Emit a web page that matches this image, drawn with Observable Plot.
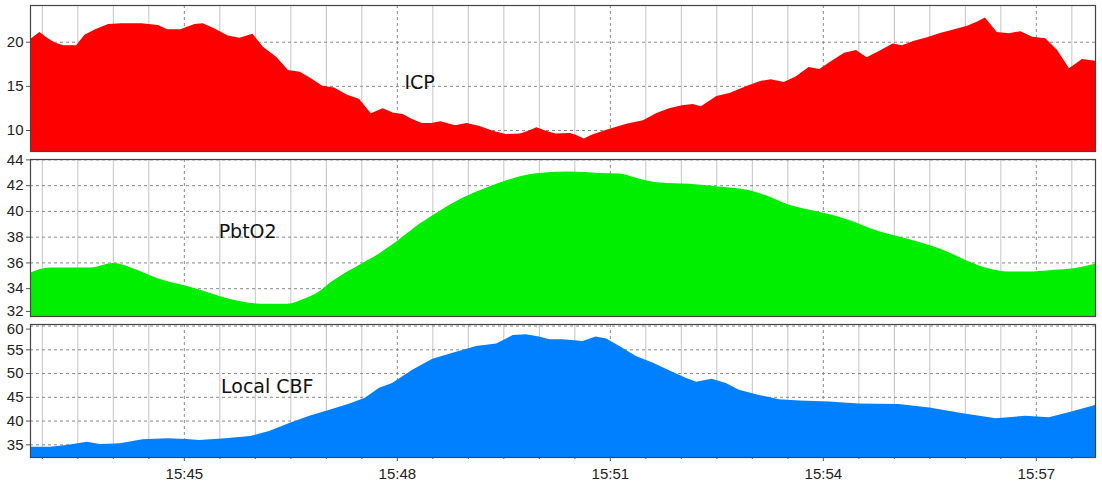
<!DOCTYPE html>
<html><head><meta charset="utf-8">
<script src="https://cdn.jsdelivr.net/npm/d3@7"></script>
<script src="https://cdn.jsdelivr.net/npm/@observablehq/plot@0.6"></script>
<style>
body{margin:0;background:#fff;}
#chart{position:relative;width:1102px;height:483px;overflow:hidden;background:#fff;}
#chart svg{position:absolute;left:0;overflow:visible;}
</style></head><body><div id="chart"></div>
<script>
const startTime = "15:42:50", endTime = "15:57:50";

const icpTimes = ["15:42:50","15:42:58","15:43:05","15:43:11","15:43:18","15:43:29","15:43:36","15:43:45","15:43:56","15:44:07","15:44:24","15:44:38","15:44:46","15:44:57","15:45:09","15:45:16","15:45:26","15:45:37","15:45:47","15:45:58","15:46:07","15:46:18","15:46:28","15:46:38","15:46:47","15:46:57","15:47:07","15:47:18","15:47:28","15:47:38","15:47:48","15:47:57","15:48:05","15:48:12","15:48:21","15:48:29","15:48:37","15:48:49","15:48:59","15:49:10","15:49:21","15:49:32","15:49:44","15:49:51","15:49:58","15:50:06","15:50:14","15:50:26","15:50:31","15:50:38","15:50:45","15:50:59","15:51:14","15:51:28","15:51:39","15:51:50","15:52:01","15:52:10","15:52:17","15:52:30","15:52:41","15:52:56","15:53:07","15:53:16","15:53:27","15:53:37","15:53:48","15:53:57","15:54:08","15:54:18","15:54:28","15:54:37","15:54:49","15:54:59","15:55:07","15:55:17","15:55:28","15:55:39","15:55:51","15:56:02","15:56:10","15:56:17","15:56:27","15:56:37","15:56:47","15:56:57","15:57:08","15:57:18","15:57:28","15:57:39","15:57:50"];
const icpValues = [20.3,21.1,20.4,19.9,19.6,19.6,20.8,21.4,22.0,22.1,22.1,21.9,21.4,21.4,22.0,22.1,21.5,20.7,20.45,20.9,19.4,18.3,16.8,16.6,15.9,15.0,14.8,14.0,13.55,11.9,12.45,11.95,11.8,11.3,10.8,10.8,11.0,10.55,10.8,10.45,9.9,9.55,9.6,9.9,10.3,9.9,9.6,9.65,9.45,9.05,9.5,10.1,10.7,11.1,11.9,12.45,12.8,12.95,12.7,13.85,14.2,15.0,15.55,15.75,15.45,16.05,17.15,16.9,17.9,18.75,19.05,18.25,19.05,19.8,19.6,20.1,20.5,21.0,21.4,21.8,22.25,22.75,21.1,20.95,21.2,20.55,20.4,19.05,17.0,18.05,17.85];

const pbtTimes = ["15:42:50","15:43:07","15:43:41","15:44:00","15:44:14","15:44:37","15:44:57","15:45:13","15:45:30","15:45:47","15:46:04","15:46:27","15:46:42","15:46:55","15:47:03","15:47:12","15:47:28","15:47:45","15:48:02","15:48:19","15:48:36","15:48:53","15:49:10","15:49:27","15:49:44","15:50:00","15:50:26","15:50:51","15:51:08","15:51:25","15:51:42","15:52:07","15:52:32","15:52:58","15:53:15","15:53:31","15:53:48","15:54:05","15:54:22","15:54:39","15:54:56","15:55:13","15:55:30","15:55:46","15:56:03","15:56:20","15:56:37","15:56:54","15:57:11","15:57:28","15:57:50"];
const pbtValues = [35.2,35.6,35.6,35.95,35.65,34.8,34.3,33.9,33.4,33.0,32.8,32.8,33.2,33.8,34.4,34.95,35.8,36.7,37.8,39.0,40.0,40.9,41.6,42.2,42.7,42.95,43.05,42.95,42.9,42.5,42.2,42.1,41.9,41.6,41.1,40.5,40.1,39.75,39.3,38.7,38.2,37.8,37.35,36.8,36.1,35.55,35.3,35.3,35.4,35.5,35.9];

const cbfTimes = ["15:42:50","15:43:07","15:43:21","15:43:38","15:43:49","15:44:06","15:44:25","15:44:46","15:45:02","15:45:13","15:45:35","15:45:56","15:46:12","15:46:29","15:46:46","15:47:03","15:47:20","15:47:33","15:47:45","15:47:56","15:48:13","15:48:30","15:48:50","15:49:07","15:49:24","15:49:38","15:49:49","15:50:00","15:50:09","15:50:20","15:50:37","15:50:48","15:50:57","15:51:08","15:51:22","15:51:36","15:51:50","15:52:04","15:52:13","15:52:26","15:52:38","15:52:49","15:53:06","15:53:23","15:53:40","15:54:05","15:54:30","15:55:04","15:55:30","15:55:57","15:56:26","15:56:51","15:57:11","15:57:30","15:57:50"];
const cbfValues = [34.5,34.5,34.85,35.55,35.05,35.2,36.05,36.3,36.1,35.9,36.3,36.75,37.8,39.5,41.0,42.3,43.6,44.8,46.9,47.9,50.7,53.0,54.5,55.7,56.25,58.0,58.15,57.7,57.1,57.1,56.75,57.7,57.3,55.7,53.6,52.2,50.6,49.0,48.15,48.8,47.9,46.5,45.4,44.5,44.2,44.0,43.6,43.5,42.75,41.6,40.5,41.0,40.7,41.9,43.3];

const icpTicks = [10, 15, 20];
const pbtTicks = [32, 34, 36, 38, 40, 42, 44];
const cbfTicks = [35, 40, 45, 50, 55, 60];

const seriesLabels = ["ICP", "PbtO2", "Local CBF"];
const labelTimes = ["15:48:06", "15:45:29", "15:45:31"];
const labelValues = [14.7, 37.9, 46.0];

const parseT = s => { const [h, m, sec] = s.split(":").map(Number); return new Date(Date.UTC(2000, 0, 1, h, m, sec)); };
const xDomain = [parseT(startTime), parseT(endTime)];
const allHalfMin = d3.utcSecond.every(30).range(xDomain[0], xDomain[1]);
const isMajor = d => d.getUTCSeconds() === 0 && d.getUTCMinutes() % 3 === 0;
const majorTicks = allHalfMin.filter(isMajor);
const minorTicks = allHalfMin.filter(d => !isMajor(d));

function panel(times, values, cfg) {
  const data = times.map((t, i) => ({t: parseT(t), v: values[i]}));
  const [lo, hi] = cfg.domain;
  const inner = cfg.ticks.filter(v => v !== cfg.lowEdge && v !== cfg.highEdge);
  const axisCommon = {tickSize: 4, tickPadding: 3, label: null, stroke: "#555", fill: "#222", fontSize: 15};
  const marks = [
    Plot.ruleX(minorTicks, {stroke: "#c4c4c4", strokeWidth: 1}),
    Plot.ruleX(majorTicks, {stroke: "#8a8a8a", strokeDasharray: "3,3"}),
    Plot.ruleY(cfg.ticks, {stroke: "#8a8a8a", strokeDasharray: "3,3"}),
    Plot.areaY(data, {x: "t", y: "v", fill: cfg.color, curve: cfg.curve || "linear", clip: true}),
    Plot.text([{t: parseT(labelTimes[cfg.idx]), v: labelValues[cfg.idx], s: seriesLabels[cfg.idx]}],
      {x: "t", y: "v", text: "s", textAnchor: "start", lineAnchor: "bottom", fontSize: 19,
       fontFamily: "DejaVu Sans, Verdana, sans-serif", fill: "#111"}),
    Plot.frame({stroke: "#444", strokeWidth: 1.2}),
    Plot.axisY({ticks: inner, ...axisCommon})
  ];
  if (cfg.lowEdge != null) marks.push(Plot.axisY({ticks: [cfg.lowEdge], ...axisCommon, dy: -3}));
  if (cfg.highEdge != null) marks.push(Plot.axisY({ticks: [cfg.highEdge], ...axisCommon, dy: 3}));
  if (cfg.xAxis) {
    marks.push(Plot.axisX({ticks: minorTicks, tickSize: 2, text: null, label: null, stroke: "#555"}));
    marks.push(Plot.axisX({ticks: majorTicks, tickSize: 4, tickPadding: 7, label: null, stroke: "#555", fill: "#222",
      fontSize: 15, tickFormat: d3.utcFormat("%H:%M")}));
  }
  const svg = Plot.plot({
    width: 1102, height: cfg.height,
    marginLeft: 30, marginRight: 7, marginTop: cfg.mt, marginBottom: cfg.mb,
    style: {fontFamily: "Liberation Sans, Arial, sans-serif", fontSize: "15px", color: "#222", background: "transparent", overflow: "visible"},
    x: {type: "utc", domain: xDomain, axis: null},
    y: {domain: [lo, hi], axis: null},
    marks
  });
  svg.style.top = cfg.top + "px";
  return svg;
}

const root = document.getElementById("chart");
root.append(panel(icpTimes, icpValues, {idx: 0, color: "#ff0000", ticks: icpTicks, domain: [7.62, 24.16], height: 155, top: 0, mt: 5, mb: 4}));
root.append(panel(pbtTimes, pbtValues, {idx: 1, color: "#00ee00", ticks: pbtTicks, domain: [31.84, 44.03], height: 163, top: 155, mt: 4, mb: 2, curve: "monotone-x", lowEdge: 32}));
root.append(panel(cbfTimes, cbfValues, {idx: 2, color: "#0080ff", ticks: cbfTicks, domain: [32.33, 60.33], height: 165, top: 318, mt: 6, mb: 26, xAxis: true, highEdge: 60}));
</script></body></html>
